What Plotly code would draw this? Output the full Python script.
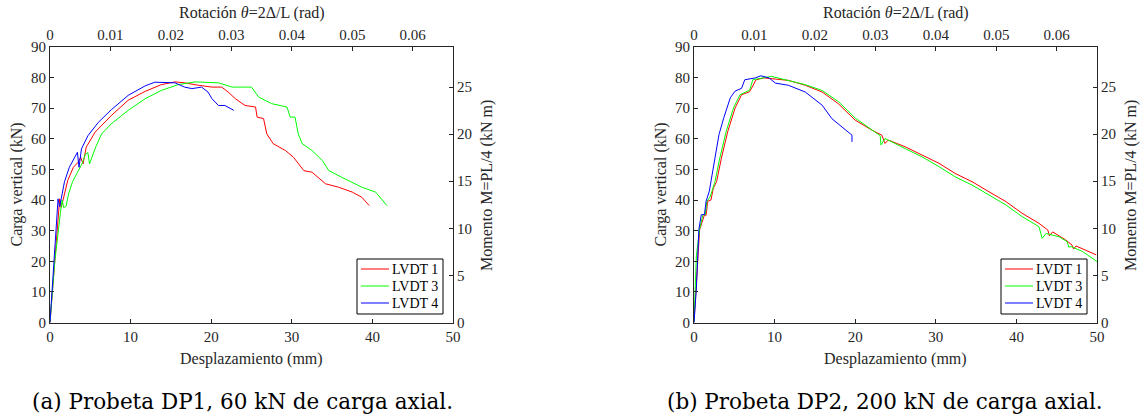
import plotly.graph_objects as go

W, H = 1143, 418

# ---------------- Probeta DP1 (60 kN axial) ----------------
dp1_lvdt1_x = [0, 1.2, 1.4, 1.8, 2.2, 2.9, 3.5, 3.8, 4.1, 4.5, 5.6, 7.6, 9.7, 11.8, 13.8,
               15.5, 16.7, 18.4, 20.1, 21.3, 22.1, 23.0, 24.2, 25.5, 25.7, 26.5, 26.9,
               27.7, 29.2, 30.2, 31.5, 32.5, 34.2, 35.8, 37.5, 38.7, 39.6]
dp1_lvdt1_y = [0, 40.4, 37.6, 42.6, 46.4, 50.7, 52.4, 54.0, 51.8, 57.3, 62.2, 67.6, 72.6, 75.5, 77.7,
               78.6, 78.3, 77.5, 76.9, 76.9, 75.3, 73.1, 70.9, 70.4, 67.1, 66.6, 61.6,
               58.4, 56.2, 54.0, 49.6, 49.1, 45.3, 44.2, 42.6, 40.9, 38.2]

dp1_lvdt3_x = [0, 0.6, 1.3, 1.5, 1.7, 2.0, 2.3, 2.8, 3.4, 4.0, 4.4, 4.7, 4.9, 5.3, 5.7,
               6.4, 7.6, 9.7, 11.8, 13.8, 15.9, 18.0, 20.9, 22.6, 25.0, 25.9, 27.5,
               29.4, 29.8, 30.4, 30.8, 31.3, 32.5, 33.8, 34.6, 36.6, 38.7, 40.4, 41.8]
dp1_lvdt3_y = [0, 20.2, 36.0, 40.0, 37.5, 38.0, 42.0, 46.0, 49.0, 52.0, 55.0, 55.5, 51.8, 55.0, 57.5,
               61.6, 64.9, 69.3, 73.1, 75.8, 77.7, 78.6, 78.3, 76.9, 76.9, 73.6, 71.5,
               70.4, 67.1, 67.1, 61.6, 58.4, 56.2, 52.9, 49.6, 46.9, 44.2, 42.6, 38.2]

dp1_lvdt4_x = [0, 1.0, 1.2, 1.4, 1.8, 2.4, 3.1, 3.4, 3.6, 3.9, 4.7, 6.0, 7.6, 9.7, 11.8,
               13.0, 15.5, 16.7, 17.6, 18.8, 19.6, 20.1, 20.9, 21.7, 22.8]
dp1_lvdt4_y = [0, 40.4, 37.8, 40.4, 46.0, 50.7, 54.0, 55.6, 50.7, 56.7, 61.0, 65.4, 69.5, 74.2, 77.3,
               78.5, 78.3, 76.9, 76.4, 76.9, 75.3, 73.1, 70.9, 70.9, 69.3]

# ---------------- Probeta DP2 (200 kN axial) ----------------
dp2_lvdt1_x = [0, 0.5, 0.7, 1.3, 1.5, 1.7, 2.1, 2.4, 2.8, 3.4, 4.2, 5.1, 5.9, 6.9, 7.7,
               8.7, 10.0, 11.7, 13.8, 15.9, 17.9, 20.0, 22.1, 23.3, 23.7, 24.1, 26.2,
               28.3, 30.4, 32.4, 34.5, 36.6, 38.7, 40.7, 42.8, 43.9, 44.1, 44.5, 46.1,
               46.9, 47.1, 47.4, 49.9]
dp2_lvdt1_y = [0, 23.2, 30.3, 35.2, 35.0, 39.6, 40.0, 43.9, 46.0, 53.7, 62.5, 70.1, 74.4, 75.4, 79.3,
               79.9, 79.5, 79.1, 77.5, 75.3, 71.5, 66.1, 62.8, 61.2, 58.5, 59.6, 57.4,
               54.7, 52.0, 48.7, 46.0, 42.7, 39.5, 35.7, 32.4, 30.2, 28.3, 29.6, 27.0,
               25.3, 24.0, 25.0, 22.1]

dp2_lvdt3_x = [0, 0.3, 0.7, 1.1, 1.4, 1.6, 2.0, 2.6, 3.2, 4.0, 4.9, 5.7, 6.9, 7.3, 9.6,
               11.7, 13.8, 15.9, 17.9, 20.0, 22.1, 23.1, 23.2, 23.7, 26.2, 28.3, 30.4,
               32.4, 34.5, 36.6, 38.7, 40.7, 42.8, 43.2, 43.7, 45.3, 46.3, 46.5, 46.8,
               48.2, 50.0]
dp2_lvdt3_y = [0, 22.0, 30.5, 35.2, 35.3, 39.6, 41.0, 46.0, 53.7, 62.5, 70.1, 74.4, 75.9, 79.3, 80.4,
               79.1, 77.7, 75.8, 72.2, 66.8, 63.0, 61.0, 58.0, 60.1, 56.8, 54.1, 50.9,
               47.6, 44.9, 41.6, 38.4, 34.6, 31.3, 27.5, 29.1, 28.0, 26.4, 24.6, 24.8,
               23.2, 19.9]

dp2_lvdt4_x = [0, 0.3, 0.6, 0.9, 1.3, 1.5, 1.9, 2.5, 3.1, 3.7, 4.5, 5.1, 5.9, 6.3, 7.6,
               8.3, 9.3, 10.1, 11.7, 13.8, 15.9, 17.1, 18.3, 19.6, 19.6]
dp2_lvdt4_y = [0, 11.3, 30.3, 35.2, 35.3, 39.6, 42.9, 52.7, 61.4, 66.9, 73.4, 75.6, 76.5, 79.3, 79.9,
               80.6, 79.9, 78.2, 77.5, 75.3, 71.0, 66.6, 63.9, 61.2, 59.0]

# Axis tick values
disp_ticks = [0, 10, 20, 30, 40, 50]
load_ticks = [0, 10, 20, 30, 40, 50, 60, 70, 80, 90]
moment_ticks = [0, 5, 10, 15, 20, 25]
rot_ticks = [0, 0.01, 0.02, 0.03, 0.04, 0.05, 0.06]
rot_labels = ["0", "0.01", "0.02", "0.03", "0.04", "0.05", "0.06"]

series_names = ["LVDT 1", "LVDT 3", "LVDT 4"]
colors = ["#ff0000", "#00ff00", "#0000ff"]

# geometry (pixels)
PA = (50, 453)
PB = (694, 1097)
PTOP, PBOT = 47, 322.5
span_m = 1.3    # moment M = P L / 4
span_rot = 1500.0  # rotation theta = 2 delta / L  (mm)

INK = "#262626"
SERIF = "Times New Roman, Liberation Serif, Tinos, serif"
TICKFONT = dict(family=SERIF, size=15, color=INK)

fig = go.Figure()

panels = [
    ("x", "y", "x2", "y2",
     [(dp1_lvdt1_x, dp1_lvdt1_y), (dp1_lvdt3_x, dp1_lvdt3_y), (dp1_lvdt4_x, dp1_lvdt4_y)]),
    ("x3", "y3", "x4", "y4",
     [(dp2_lvdt1_x, dp2_lvdt1_y), (dp2_lvdt3_x, dp2_lvdt3_y), (dp2_lvdt4_x, dp2_lvdt4_y)]),
]

for xa, ya, xt, yr, data in panels:
    for (xs, ys), name, col in zip(data, series_names, colors):
        fig.add_trace(go.Scatter(x=xs, y=ys, mode="lines", name=name,
                                 line=dict(color=col, width=1),
                                 xaxis=xa, yaxis=ya, showlegend=False))
    # empty trace so the secondary (top/right) axes get drawn
    fig.add_trace(go.Scatter(x=[None], y=[None], xaxis=xt, yaxis=yr,
                             showlegend=False, hoverinfo="skip"))


def common(**kw):
    d = dict(showgrid=False, zeroline=False, showline=True, linecolor=INK, linewidth=1,
             ticks="inside", ticklen=4, tickwidth=1, tickcolor=INK, tickfont=TICKFONT,
             automargin=False, fixedrange=True)
    d.update(kw)
    return d


ydom = [1 - PBOT / H, 1 - PTOP / H]
for (x0, x1), xb, yl, xt, yr in [(PA, "xaxis", "yaxis", "xaxis2", "yaxis2"),
                                  (PB, "xaxis3", "yaxis3", "xaxis4", "yaxis4")]:
    xid = "x" if xb == "xaxis" else "x3"
    yid = "y" if yl == "yaxis" else "y3"
    fig.update_layout({
        xb: common(domain=[x0 / W, x1 / W], range=[0, 50], anchor=yid,
                   tickvals=disp_ticks),
        yl: common(domain=ydom, range=[0, 90], anchor=xid, tickvals=load_ticks),
        xt: common(overlaying=xid, anchor=yid, side="top",
                   range=[0, 2 * 50 / span_rot], tickvals=rot_ticks, ticktext=rot_labels),
        yr: common(overlaying=yid, anchor=xid, side="right",
                   range=[0, 90 * span_m / 4], tickvals=moment_ticks),
    })

TITLEFONT = dict(family=SERIF, size=16, color=INK)
annotations = []
shapes = []
for (x0, x1) in (PA, PB):
    cx = (x0 + x1) / 2
    annotations += [
        dict(text="Rotación <i>θ</i>=2Δ/L (rad)", x=cx / W, y=1 - 13 / H),
        dict(text="Desplazamiento (mm)", x=cx / W, y=1 - 359 / H),
        dict(text="Carga vertical (kN)", x=(x0 - 34) / W, y=1 - 184.5 / H, textangle=-90),
        dict(text="Momento M=PL/4 (kN m)", x=(x1 + 34) / W, y=1 - 186 / H, textangle=-90),
    ]

annotations = [dict(a, xref="paper", yref="paper", showarrow=False, font=TITLEFONT,
                    xanchor="center", yanchor="middle") for a in annotations]

# boxed legend in the lower-right corner of each panel
LEGFONT = dict(family=SERIF, size=14, color="black")
for (x0, x1) in (PA, PB):
    bx1 = x1 - 10
    bx0 = bx1 - 86
    by0, by1 = 259, 314
    shapes.append(dict(type="rect", xref="paper", yref="paper",
                       x0=bx0 / W, x1=bx1 / W, y0=1 - by1 / H, y1=1 - by0 / H,
                       line=dict(color="black", width=1), fillcolor="white", layer="above"))
    for i, (name, col) in enumerate(zip(series_names, colors)):
        yy = 269 + 17 * i
        shapes.append(dict(type="line", xref="paper", yref="paper",
                           x0=(bx0 + 4) / W, x1=(bx0 + 32) / W, y0=1 - yy / H, y1=1 - yy / H,
                           line=dict(color=col, width=1), layer="above"))
        annotations.append(dict(text=name, x=(bx0 + 33) / W, y=1 - yy / H,
                                xref="paper", yref="paper", showarrow=False, font=LEGFONT,
                                xanchor="left", yanchor="middle"))

CAPFONT = dict(family="DejaVu Serif", size=21.5, color="black")
annotations += [
    dict(text="(a) Probeta DP1, 60 kN de carga axial.", x=242 / W, y=1 - 401 / H,
         xref="paper", yref="paper", showarrow=False, font=CAPFONT,
         xanchor="center", yanchor="middle"),
    dict(text="(b) Probeta DP2, 200 kN de carga axial.", x=885 / W, y=1 - 401 / H,
         xref="paper", yref="paper", showarrow=False, font=CAPFONT,
         xanchor="center", yanchor="middle"),
]

fig.update_layout(
    width=W, height=H, margin=dict(l=0, r=0, t=0, b=0),
    paper_bgcolor="white", plot_bgcolor="white",
    annotations=annotations, shapes=shapes, showlegend=False,
)

fig.write_html("out.html")
